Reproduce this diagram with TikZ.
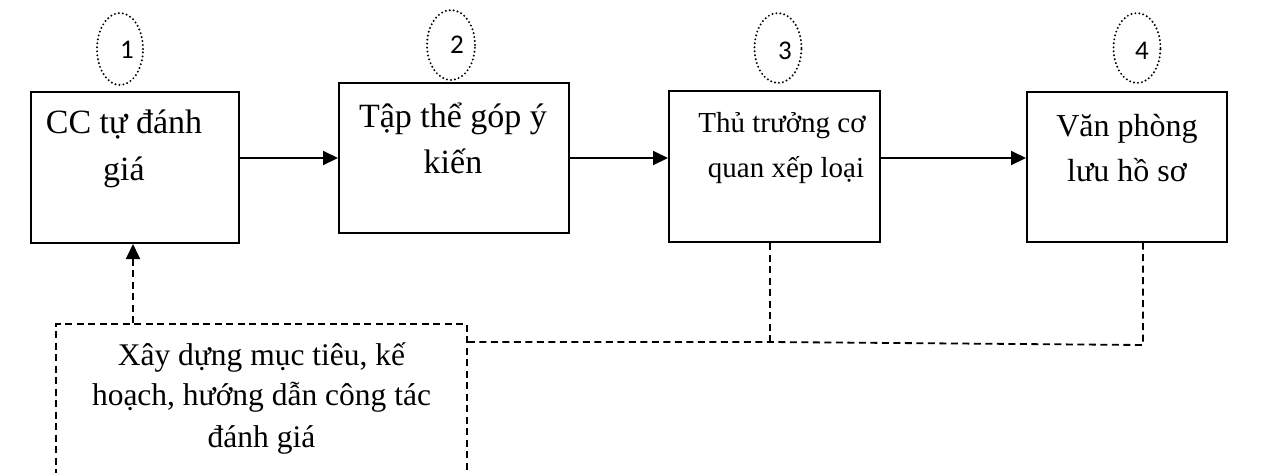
\documentclass[tikz,border=0pt]{standalone}
\usepackage{fontspec}
\setmainfont{Liberation Serif}
\newfontfamily\numfont{Carlito}
\usetikzlibrary{arrows.meta,shapes.geometric}
\begin{document}
\begin{tikzpicture}[x=1pt,y=-1pt,
  procbox/.style={draw,line width=2pt,inner sep=0pt},
  flow/.style={line width=2pt,-{Triangle[length=15pt,width=14pt]}},
  dashline/.style={line width=1.8pt,dash pattern=on 7pt off 4.5pt},
  dashflow/.style={dashline,-{Triangle[length=15pt,width=14pt]}},
  dashbox/.style={draw,dashline,inner sep=0pt},
  dotellipse/.style={draw,ellipse,inner sep=0pt,line width=2.2pt,line cap=round,dash pattern=on 0pt off 4pt},
  numtxt/.style={font=\numfont\fontsize{27}{30}\selectfont,inner sep=0pt},
  ln/.style={anchor=base,inner sep=0pt}]
\useasboundingbox (0,0) rectangle (1265,472);
% process boxes
\node[procbox,minimum width=208pt,minimum height=151pt] (b1) at (135,167.5) {};
\node[procbox,minimum width=230pt,minimum height=150pt] (b2) at (454,158) {};
\node[procbox,minimum width=211pt,minimum height=151pt] (b3) at (774.5,166.5) {};
\node[procbox,minimum width=200pt,minimum height=150pt] (b4) at (1127,167) {};
% texts
\node[ln,font=\fontsize{34}{47}\selectfont] (t1a) at (124,133) {CC tự đánh};
\node[ln,font=\fontsize{34}{47}\selectfont] (t1b) at (124,180) {giá};
\node[ln,font=\fontsize{34}{46}\selectfont] (t2a) at (453,127) {Tập thể góp ý};
\node[ln,font=\fontsize{34}{46}\selectfont] (t2b) at (453,173) {kiến};
\node[ln,font=\fontsize{29}{45}\selectfont] (t3a) at (782,132) {Thủ trưởng cơ};
\node[ln,font=\fontsize{29}{45}\selectfont] (t3b) at (786,177) {quan xếp loại};
\node[ln,font=\fontsize{32}{45}\selectfont] (t4a) at (1127,136) {Văn phòng};
\node[ln,font=\fontsize{32}{45}\selectfont] (t4b) at (1127,181) {lưu hồ sơ};
% numbered ellipses
\node[dotellipse,minimum width=46pt,minimum height=72pt] (c1) at (120,49) {};
\node[dotellipse,minimum width=48pt,minimum height=70pt] (c2) at (451,45) {};
\node[dotellipse,minimum width=47pt,minimum height=70pt] (c3) at (778,48) {};
\node[dotellipse,minimum width=47pt,minimum height=70pt] (c4) at (1137,48) {};
\node[numtxt] (n1) at (127,50) {1};
\node[numtxt] (n2) at (457,45) {2};
\node[numtxt] (n3) at (785,51) {3};
\node[numtxt] (n4) at (1142,51) {4};
% solid arrows
\coordinate (r3) at (0,158);
\draw[flow] (b1.east |- b2.west) -- (b2.west);
\draw[flow] (b2.east) -- (b2.east -| b3.west);
\draw[flow] (b3.east |- r3) -- (b4.west |- r3);
% planning box
\node[dashbox,minimum width=411pt,minimum height=160pt] (plan) at (261.5,404) {};
\node[ln,font=\fontsize{31.5}{41}\selectfont] (p1) at (261.5,365) {Xây dựng mục tiêu, kế};
\node[ln,font=\fontsize{31.5}{41}\selectfont] (p2) at (261.5,405) {hoạch, hướng dẫn công tác};
\node[ln,font=\fontsize{31.5}{41}\selectfont] (p3) at (261.5,447) {đánh giá};
% dashed connectors
\coordinate (up) at (133,0);
\draw[dashflow] (up |- plan.north) -- (up |- b1.south);
\coordinate (j3) at (770,342);
\coordinate (j4) at (1143,345);
\draw[dashline] (plan.east |- j3) -- (j3) -- (j4) -- (j4 |- b4.south);
\draw[dashline] (j3 |- b3.south) -- (j3);
\end{tikzpicture}
\end{document}
